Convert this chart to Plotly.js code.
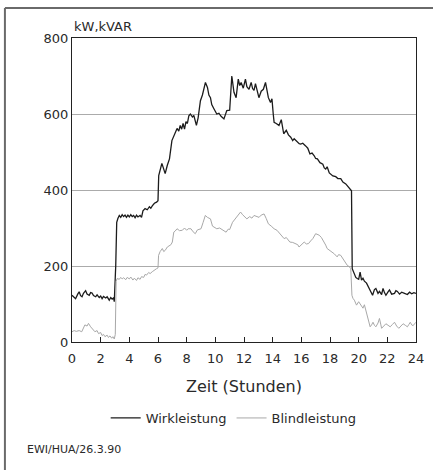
<!DOCTYPE html>
<html>
<head>
<meta charset="utf-8">
<script src="https://cdn.plot.ly/plotly-3.0.1.min.js"></script>
<style>html,body{margin:0;padding:0;background:#fff;}#chart{width:433px;height:470px;}</style>
</head>
<body>
<div id="chart"></div>
<script>
// Wirkleistung (kW) — hours and values
const hoursWirk = [0.0,0.15,0.25,0.4,0.5,0.6,0.7,0.8,0.95,1.05,1.2,1.3,1.4,1.5,1.65,1.75,1.9,2.0,2.1,2.2,2.35,2.45,2.6,2.7,2.8,2.9,2.95,3.05,3.12,3.2,3.3,3.4,3.5,3.6,3.7,3.8,3.9,4.0,4.1,4.2,4.3,4.4,4.5,4.6,4.75,4.85,4.95,5.1,5.25,5.4,5.5,5.6,5.75,5.9,6.0,6.05,6.15,6.27,6.4,6.5,6.65,6.8,6.97,7.1,7.2,7.33,7.45,7.55,7.65,7.75,7.85,7.95,8.05,8.15,8.26,8.4,8.5,8.6,8.68,8.8,8.96,9.1,9.31,9.45,9.55,9.66,9.75,9.9,10.0,10.1,10.25,10.4,10.6,10.7,10.8,11.0,11.15,11.3,11.45,11.6,11.7,11.8,11.95,12.1,12.2,12.35,12.5,12.6,12.7,12.8,12.9,13.04,13.2,13.35,13.5,13.6,13.7,13.85,13.95,14.04,14.1,14.25,14.44,14.6,14.77,14.95,15.1,15.26,15.4,15.5,15.7,15.85,15.96,16.1,16.3,16.45,16.6,16.75,16.9,17.0,17.12,17.3,17.5,17.6,17.7,17.8,17.95,18.05,18.2,18.4,18.55,18.75,18.9,19.1,19.25,19.4,19.5,19.55,19.7,19.8,19.9,20.0,20.1,20.2,20.3,20.4,20.55,20.7,20.85,20.97,21.1,21.2,21.35,21.45,21.6,21.7,21.8,21.9,22.05,22.15,22.3,22.5,22.6,22.7,22.85,23.0,23.2,23.4,23.55,23.7,23.85,24.0];
const wirk = [123,118,114,126,132,122,119,128,135,126,123,130,129,122,119,124,117,121,114,120,116,119,110,117,113,116,106,200,315,325,333,328,335,330,334,328,334,329,335,330,333,327,334,329,333,328,345,351,348,356,352,358,365,368,372,438,450,470,455,443,465,482,530,540,548,562,555,570,560,575,560,580,575,595,600,592,596,580,570,590,635,650,683,670,650,643,625,614,608,600,602,594,587,598,609,610,700,657,643,692,675,683,668,692,672,665,683,667,662,680,662,643,660,665,683,665,643,630,640,600,578,575,570,585,548,557,545,539,530,535,528,522,521,523,516,510,495,497,490,483,482,472,468,458,455,461,445,442,437,435,430,430,421,416,410,403,398,193,176,170,167,165,184,163,168,160,155,145,132,123,138,141,128,133,125,141,130,123,132,137,126,128,135,133,126,131,128,125,131,127,130,128];

// Blindleistung (kVAR)
const hoursBlind = [0.0,0.15,0.3,0.5,0.68,0.8,0.9,1.05,1.15,1.3,1.4,1.5,1.6,1.75,1.85,2.0,2.1,2.2,2.3,2.45,2.54,2.65,2.77,2.85,2.95,3.02,3.08,3.15,3.3,3.4,3.5,3.6,3.75,3.85,4.0,4.1,4.25,4.35,4.5,4.6,4.75,4.85,5.0,5.1,5.2,5.35,5.45,5.6,5.75,5.9,6.0,6.04,6.15,6.3,6.4,6.5,6.65,6.8,6.9,7.0,7.1,7.2,7.33,7.5,7.7,7.85,8.0,8.1,8.3,8.45,8.6,8.75,9.0,9.15,9.3,9.45,9.66,9.8,10.1,10.3,10.5,10.65,10.75,10.9,11.0,11.2,11.4,11.6,11.76,11.9,12.05,12.2,12.4,12.55,12.7,12.9,13.05,13.2,13.4,13.55,13.7,13.9,14.1,14.3,14.45,14.6,14.8,14.95,15.1,15.2,15.4,15.6,15.75,15.84,16.0,16.2,16.35,16.5,16.65,16.8,17.0,17.1,17.25,17.4,17.6,17.7,17.8,17.95,18.15,18.3,18.5,18.6,18.75,18.9,19.0,19.1,19.2,19.35,19.45,19.53,19.6,19.7,19.85,20.0,20.1,20.2,20.3,20.4,20.5,20.6,20.7,20.8,20.9,21.0,21.1,21.2,21.35,21.45,21.55,21.6,21.75,21.9,22.05,22.2,22.35,22.5,22.65,22.8,22.95,23.1,23.25,23.4,23.5,23.6,23.7,23.8,23.9,24.0];
const blind = [27,30,28,30,27,40,45,42,49,40,35,31,27,30,22,25,17,20,14,18,12,16,10,14,8,20,160,167,165,170,166,169,164,170,166,171,163,168,162,169,165,172,170,178,176,183,180,185,190,193,195,228,238,246,238,241,250,254,256,263,289,292,298,293,294,300,294,298,298,290,285,295,298,315,333,328,324,305,298,300,296,293,289,297,296,315,325,335,342,335,329,324,330,326,333,330,328,334,337,325,311,305,298,294,288,282,272,275,266,263,262,259,256,250,257,263,258,259,266,272,285,283,281,275,263,255,246,242,237,232,224,230,228,220,215,210,202,198,193,123,115,110,97,106,100,95,89,98,85,71,60,40,45,52,44,40,50,62,45,36,42,48,44,40,46,52,42,36,42,48,44,40,46,52,45,43,48,52];

const xTickVals = [0,2,4,6,8,10,12,14,16,18,20,22,24];
const yTickVals = [0,200,400,600,800];
const seriesNames = ['Wirkleistung','Blindleistung'];

const font = 'DejaVu Sans, sans-serif';
const txt = '#2a2a2a';

const traces = [
  {x: hoursWirk, y: wirk, name: seriesNames[0], type: 'scatter', mode: 'lines',
   line: {color: '#1c1c1c', width: 1.3}},
  {x: hoursBlind, y: blind, name: seriesNames[1], type: 'scatter', mode: 'lines',
   line: {color: '#a8a8a8', width: 1}}
];

const layout = {
  width: 433, height: 470,
  margin: {l: 72, r: 17, t: 38, b: 128},
  paper_bgcolor: '#fff', plot_bgcolor: '#fff',
  font: {family: font, color: txt, size: 13},
  showlegend: true,
  legend: {orientation: 'h', x: 0.47, xanchor: 'center', y: -0.25, yanchor: 'middle',
           font: {family: font, size: 13, color: txt}, bgcolor: 'rgba(0,0,0,0)'},
  xaxis: {range: [0, 24], tickvals: xTickVals, ticktext: xTickVals.map(String),
          ticks: 'inside', ticklen: 5, tickcolor: '#222', tickwidth: 1, ticklabelstandoff: 4,
          showline: true, linecolor: '#222', linewidth: 1, mirror: true,
          showgrid: false, zeroline: false, tickfont: {size: 13, family: font, color: txt}},
  yaxis: {range: [0, 800], tickvals: yTickVals, ticktext: yTickVals.map(String),
          ticks: '', showline: true, linecolor: '#222', linewidth: 1, mirror: true,
          showgrid: true, gridcolor: '#ababab', gridwidth: 1, zeroline: false,
          tickfont: {size: 13, family: font, color: txt}},
  annotations: [
    {text: 'kW,kVAR', xref: 'paper', yref: 'paper', x: 0, y: 1.039, xanchor: 'left', yanchor: 'middle',
     showarrow: false, font: {size: 13, family: font, color: txt}},
    {text: 'Zeit (Stunden)', xref: 'paper', yref: 'paper', x: 0.5, y: -0.148, xanchor: 'center', yanchor: 'middle',
     showarrow: false, font: {size: 16, family: font, color: txt}},
    {text: 'EWI/HUA/26.3.90', xref: 'paper', yref: 'paper', x: -0.137, y: -0.355, xanchor: 'left', yanchor: 'middle',
     showarrow: false, font: {size: 11, family: font, color: txt}}
  ],
  shapes: [
    {type: 'line', xref: 'paper', yref: 'paper', x0: -0.195, x1: 1.06, y0: 1.0987, y1: 1.0987,
     line: {color: '#6a6a6a', width: 2}},
    {type: 'line', xref: 'paper', yref: 'paper', x0: -0.195, x1: -0.195, y0: 1.0987, y1: -0.43,
     line: {color: '#6a6a6a', width: 2}}
  ]
};

Plotly.newPlot('chart', traces, layout, {displayModeBar: false, staticPlot: true});
</script>
</body>
</html>
